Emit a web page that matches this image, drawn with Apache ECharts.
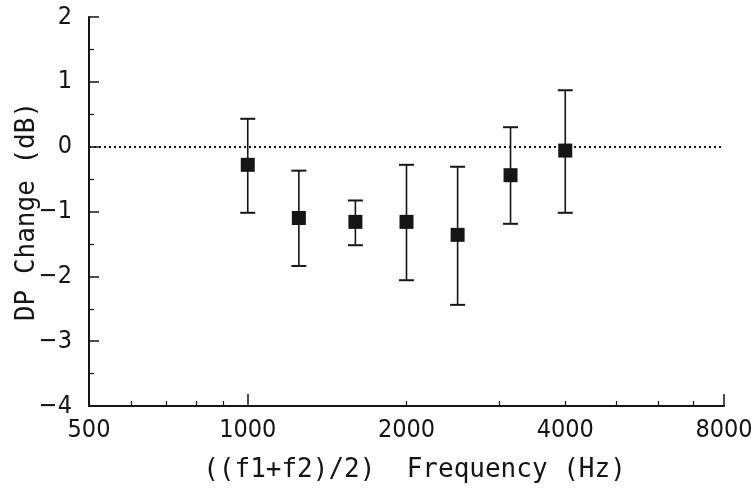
<!DOCTYPE html>
<html>
<head>
<meta charset="utf-8">
<script src="https://cdn.jsdelivr.net/npm/echarts@6/dist/echarts.min.js"></script>
<style>
html,body{margin:0;padding:0;background:#fff;}
#chart{width:752px;height:489px;}
</style>
</head>
<body>
<div id="chart"></div>
<script>
// ---- data ----
const freqHz  = [1000, 1250, 1600, 2000, 2500, 3150, 4000];
const meanDb  = [-0.28, -1.10, -1.16, -1.16, -1.36, -0.44, -0.06];
const upperDb = [0.43, -0.37, -0.83, -0.28, -0.31, 0.30, 0.87];
const lowerDb = [-1.02, -1.84, -1.52, -2.06, -2.44, -1.19, -1.02];
const xTickLabelsHz = [500, 1000, 2000, 4000, 8000];
const xMajorTicksHz = [1000, 8000];
const xMinorTicksHz = [600, 700, 800, 900, 2000, 3000, 4000, 5000, 6000, 7000];
const yTicks = [-4, -3, -2, -1, 0, 1, 2];

// ---- build ----
const baseHz = 500;
const oct = f => Math.log2(f / baseHz);
const ink = '#151515';
const tickFont = '"Liberation Sans Narrow", "DejaVu Sans Condensed", sans-serif';
const titleFont = '"DejaVu Sans Mono", "Liberation Mono", monospace';

const points = freqHz.map((f, i) => [oct(f), meanDb[i]]);
const bars = freqHz.map((f, i) => [oct(f), upperDb[i], lowerDb[i]]);

const chart = echarts.init(document.getElementById('chart'), null, {renderer: 'canvas'});
chart.setOption({
  animation: false,
  backgroundColor: '#fff',
  grid: {left: 89, right: 28, top: 17, bottom: 83, containLabel: false, outerBoundsMode: 'none'},
  xAxis: [{
    type: 'value',
    min: oct(xTickLabelsHz[0]),
    max: oct(xTickLabelsHz[xTickLabelsHz.length - 1]),
    interval: 1,
    splitLine: {show: false},
    axisLine: {onZero: false, lineStyle: {color: ink, width: 2}},
    axisTick: {show: true, inside: true, length: 12, lineStyle: {color: ink, width: 1.5},
               customValues: xMajorTicksHz.map(oct)},
    axisLabel: {color: ink, fontFamily: tickFont, fontSize: 25, margin: 12,
                customValues: xTickLabelsHz.map(oct),
                formatter: v => String(Math.round(baseHz * Math.pow(2, v)))},
    name: '((f1+f2)/2)  Frequency (Hz)',
    nameLocation: 'middle',
    nameGap: 51,
    nameMoveOverlap: false,
    nameTextStyle: {color: ink, fontFamily: titleFont, fontSize: 26, padding: [0, 0, 0, 16]}
  }, {
    type: 'value',
    position: 'bottom',
    min: oct(xTickLabelsHz[0]),
    max: oct(xTickLabelsHz[xTickLabelsHz.length - 1]),
    splitLine: {show: false},
    axisLine: {show: false, onZero: false},
    axisLabel: {show: false},
    axisTick: {show: true, inside: true, length: 5, lineStyle: {color: ink, width: 1.2},
               customValues: xMinorTicksHz.map(oct)}
  }],
  yAxis: {
    type: 'value',
    min: yTicks[0],
    max: yTicks[yTicks.length - 1],
    interval: 1,
    splitLine: {show: false},
    axisLine: {show: true, onZero: false, lineStyle: {color: ink, width: 2}},
    axisTick: {show: true, inside: true, length: 10, lineStyle: {color: ink, width: 1.5}},
    minorTick: {show: true, splitNumber: 2, length: 5, lineStyle: {color: ink, width: 1.2}},
    axisLabel: {color: ink, fontFamily: tickFont, fontSize: 25, margin: 17,
                formatter: v => (v < 0 ? '\u2212' + Math.abs(v) : String(v))},
    name: 'DP Change (dB)',
    nameLocation: 'middle',
    nameGap: 49,
    nameMoveOverlap: false,
    nameTextStyle: {color: ink, fontFamily: titleFont, fontSize: 26}
  },
  series: [{
    type: 'custom',
    z: 2,
    data: bars,
    encode: {x: 0, y: [1, 2]},
    renderItem: function (params, api) {
      const x = api.value(0);
      const top = api.coord([x, api.value(1)]);
      const bot = api.coord([x, api.value(2)]);
      const hw = 7.5;
      const st = {stroke: ink, lineWidth: 1.6};
      const cap = {stroke: ink, lineWidth: 2};
      return {
        type: 'group',
        children: [
          {type: 'line', shape: {x1: top[0], y1: top[1], x2: bot[0], y2: bot[1]}, style: st},
          {type: 'line', shape: {x1: top[0] - hw, y1: top[1], x2: top[0] + hw, y2: top[1]}, style: cap},
          {type: 'line', shape: {x1: bot[0] - hw, y1: bot[1], x2: bot[0] + hw, y2: bot[1]}, style: cap}
        ]
      };
    }
  }, {
    type: 'scatter',
    z: 3,
    symbol: 'rect',
    symbolSize: 14,
    itemStyle: {color: ink, opacity: 1},
    data: points,
    markLine: {
      silent: true,
      symbol: 'none',
      label: {show: false},
      lineStyle: {type: [2, 3], color: ink, width: 2, opacity: 1},
      data: [{yAxis: 0}]
    }
  }]
});
</script>
</body>
</html>
